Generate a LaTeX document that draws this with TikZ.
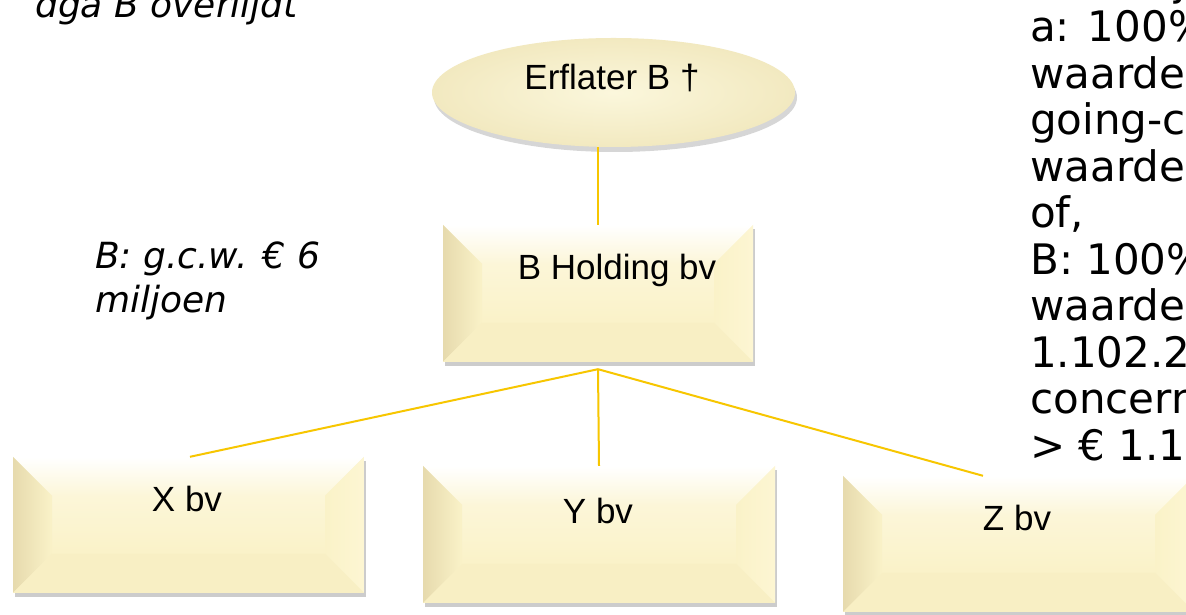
\documentclass[tikz,border=0pt]{standalone}
\usepackage{fontspec}
\setmainfont{Liberation Sans}
\newfontfamily\verd{DejaVu Sans}
\usetikzlibrary{shapes.geometric,shadows,calc}
\definecolor{face}{HTML}{FAF2C8}
\definecolor{facetop}{HTML}{FCF6D8}
\definecolor{leftbev}{HTML}{E6DAAD}
\definecolor{rightbev}{HTML}{FDF6D3}
\definecolor{botbev}{HTML}{F8EFC4}
\definecolor{gold}{HTML}{F7C600}
\definecolor{ellin}{HTML}{FBF7DC}
\definecolor{ellout}{HTML}{F2E9C0}
\newcommand\mytightlines{\lineskiplimit=-100pt\relax}
\tikzset{
  bevelbox/.style 2 args={rectangle, inner sep=0pt, minimum width=#1, minimum height=#2,
    drop shadow={shadow xshift=2pt, shadow yshift=-4pt, fill=black, opacity=0.2},
    path picture={
      \coordinate (sw) at (path picture bounding box.south west);
      \coordinate (ne) at (path picture bounding box.north east);
      \coordinate (nw) at (path picture bounding box.north west);
      \coordinate (se) at (path picture bounding box.south east);
      \fill[face] (sw) rectangle (ne);
      \shade[top color=facetop, bottom color=face] ($(nw)+(39pt,-39pt)$) rectangle ($(se)+(-39pt,39pt)$);
      \shade[top color=white, bottom color=facetop] (nw) -- (ne) -- ($(ne)+(-39pt,-39pt)$) -- ($(nw)+(39pt,-39pt)$) -- cycle;
      \shade[left color=leftbev, right color=face] (nw) -- ($(nw)+(39pt,-39pt)$) -- ($(sw)+(39pt,39pt)$) -- (sw) -- cycle;
      \shade[left color=face, right color=rightbev] (ne) -- ($(ne)+(-39pt,-39pt)$) -- ($(se)+(-39pt,39pt)$) -- (se) -- cycle;
      \fill[botbev] (sw) -- ($(sw)+(39pt,39pt)$) -- ($(se)+(-39pt,39pt)$) -- (se) -- cycle;
    }},
  ovalnode/.style={ellipse, inner sep=0pt, minimum width=363pt, minimum height=109pt,
    inner color=ellin, outer color=ellout,
    drop shadow={shadow xshift=2pt, shadow yshift=-5pt, fill=black, opacity=0.16}},
  boxtext/.style={anchor=base, inner sep=0pt, font=\fontsize{35}{40}\selectfont},
  note/.style={anchor=base west, inner sep=0pt, font=\verd\itshape\fontsize{36}{44}\selectfont},
  side/.style={anchor=base west, inner sep=0pt, font=\verd\fontsize{42}{46.5}\selectfont},
  conn/.style={draw=gold, line width=2pt}
}
\begin{document}
\begin{tikzpicture}[x=1pt,y=1pt]
\clip (0,0) rectangle (1186,615);
\useasboundingbox (0,0) rectangle (1186,615);
\fill[white] (0,0) rectangle (1186,615);

% nodes
\node[ovalnode] (erf) at (613.5,522.5) {};
\node[bevelbox={310pt}{137pt}] (hold) at (598,321.5) {};
\node[bevelbox={351pt}{136pt}] (xbv) at (188.5,90) {};
\node[bevelbox={352pt}{137pt}] (ybv) at (599,80.5) {};
\node[bevelbox={351pt}{136pt}] (zbv) at (1018.5,71) {};

% texts
\node[boxtext] (erfT) at (612,525) {Erflater B †};
\node[boxtext] (holdT) at (617,335) {B Holding bv};
\node[boxtext] (xT) at (187,103) {X bv};
\node[boxtext] (yT) at (598,91) {Y bv};
\node[boxtext] (zT) at (1017,84) {Z bv};

\node[note] (top) at (35,597) {dga B overlijdt};
\node[note] (gcw) at (95,346) {\parbox[t]{300pt}{B: g.c.w. € 6\\miljoen}};
\node[side] (jj) at (1174,619.5) {j};
\node[side] (right) at (1030,573) {\parbox[t]{400pt}{\mytightlines a: 100\%\\waarde\\going-c\\waarde\\of,\\B: 100\%\\waarde\\1.102.2\\concern\\> € 1.1}};

% connectors
\coordinate (jn) at ($(hold.south)+(0,-7pt)$);
\draw[conn] (erf.south -| hold.north) -- (hold.north);
\draw[conn] (jn) -- ([xshift=1.5pt]xbv.north);
\draw[conn] (jn) -- (ybv.north);
\draw[conn] (jn) -- ([xshift=-35.5pt]zbv.north);
\end{tikzpicture}
\end{document}
